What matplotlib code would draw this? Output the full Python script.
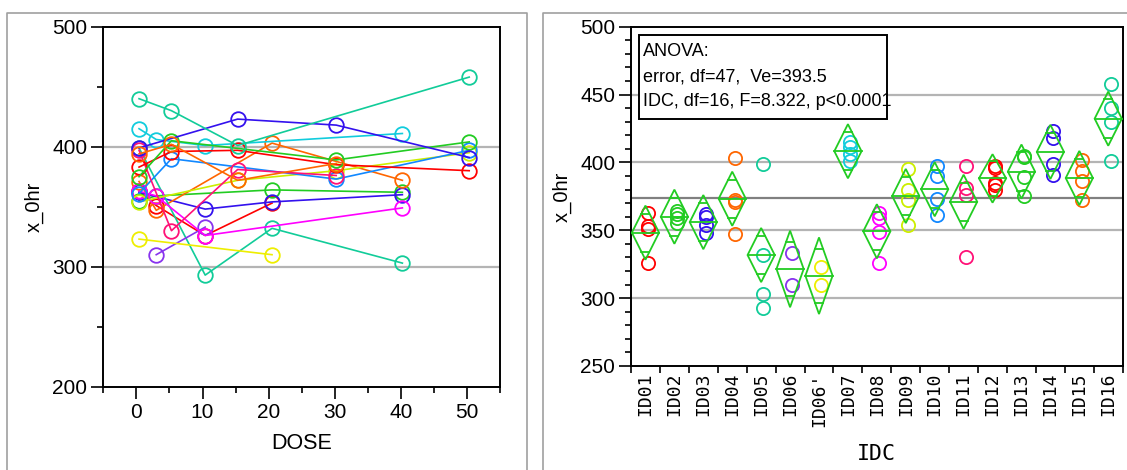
import numpy as np
import matplotlib
matplotlib.use("Agg")
import matplotlib.pyplot as plt
from matplotlib.lines import Line2D
from matplotlib.patches import Polygon, Rectangle
from matplotlib.ticker import MultipleLocator, FixedLocator

plt.rcParams['font.family'] = ['Liberation Sans', 'DejaVu Sans']

# subjects, in plotting order, with their JMP-style colours
ids = ["ID01", "ID02", "ID03", "ID04", "ID05", "ID06", "ID06'", "ID07", "ID08",
       "ID09", "ID10", "ID11", "ID12", "ID13", "ID14", "ID15", "ID16"]
colors = ["#FF0000", "#22CC22", "#3311EE", "#FF6600", "#11CC99", "#8833EE", "#EEEE00",
          "#11CCDD", "#FF00FF", "#CCEE00", "#1188FF", "#FF1177", "#FF0000", "#22CC22",
          "#3311EE", "#FF6600", "#11CC99"]

# dose per measurement and the matching x_0hr value, one list per subject
dose_by_id = [
    [0.4, 3.0, 10.4, 20.5],
    [0.4, 3.0, 20.5, 40.2],
    [0.4, 10.4, 20.5, 40.2],
    [0.4, 3.0, 20.5, 40.2],
    [0.4, 10.4, 20.5, 40.2],
    [3.0, 10.4],
    [0.4, 20.5],
    [0.4, 3.0, 10.4, 40.2],
    [0.4, 3.0, 10.4, 40.2],
    [0.4, 15.3, 30.2, 50.3],
    [0.4, 5.3, 30.2, 50.3],
    [0.4, 5.3, 15.3, 30.2],
    [0.4, 5.3, 15.3, 30.2, 50.3],
    [0.4, 5.3, 30.2, 50.3],
    [0.4, 15.3, 30.2, 50.3],
    [0.4, 5.3, 15.3, 30.2],
    [0.4, 5.3, 15.3, 50.3],
]
x0hr_by_id = [
    [363, 351, 326, 353],
    [355, 359, 364, 362],
    [362, 348, 354, 360],
    [371, 347, 403, 372],
    [399, 293, 332, 303],
    [310, 333],
    [323, 310],
    [415, 406, 401, 411],
    [363, 359, 326, 349],
    [354, 372, 380, 395],
    [361, 390, 373, 397],
    [397, 330, 381, 376],
    [383, 396, 397, 385, 380],
    [375, 405, 389, 404],
    [399, 423, 418, 391],
    [394, 402, 372, 386],
    [440, 430, 401, 458],
]

anova_lines = ["ANOVA:", "error, df=47,  Ve=393.5", "IDC, df=16, F=8.322, p<0.0001"]
ve = 393.5
t_crit = 2.012  # t(0.975, df=47)

W, H = 1127, 470
fig = plt.figure(figsize=(W / 100, H / 100), dpi=100)


def fx(px):
    return px / W


def fy(py):
    return 1 - py / H


def style_axis(ax):
    for s in ax.spines.values():
        s.set_linewidth(1.4)
    ax.tick_params(which='major', direction='out', length=8.4, width=1.2, labelsize=15, pad=3)
    ax.tick_params(which='minor', direction='out', length=4.3, width=1.2)


# grey frames around the two report panels
frame_top = fy(12.7)
for x0, x1 in [(7, 527), (543, 1160)]:
    fig.add_artist(Line2D([fx(x0), fx(x0), fx(x1), fx(x1)], [-0.1, frame_top, frame_top, -0.1],
                          transform=fig.transFigure, color='#A0A0A0', lw=1.2))

# ---- left: x_0hr by dose, one line per subject
ax1 = fig.add_axes([fx(103.3), fy(386.7), fx(500.3) - fx(103.3), fy(26.7) - fy(386.7)])
for d, v, c in zip(dose_by_id, x0hr_by_id, colors):
    ax1.plot(d, v, '-', color=c, lw=1.2, marker='o', ms=10.5, mfc='none', mec=c, mew=1.3, zorder=3)
for g in (300, 400):
    ax1.axhline(g, color='#B4B4B4', lw=1.6, zorder=1)
ax1.set_xlim(-5, 55)
ax1.set_ylim(200, 500)
ax1.xaxis.set_major_locator(MultipleLocator(10))
ax1.xaxis.set_minor_locator(MultipleLocator(5))
ax1.yaxis.set_major_locator(MultipleLocator(100))
ax1.yaxis.set_minor_locator(MultipleLocator(50))
style_axis(ax1)
ax1.set_xlabel("DOSE", fontsize=15.5, labelpad=8)
ax1.set_ylabel("x_0hr", fontsize=14.5, labelpad=6)

# ---- right: one-way ANOVA of x_0hr by IDC with means diamonds
ax2 = fig.add_axes([fx(631), fy(366), fx(1122.7) - fx(631), fy(26.7) - fy(366)])
for g in (300, 350, 400, 450):
    ax2.axhline(g, color='#B4B4B4', lw=1.6, zorder=1)
all_vals = np.concatenate([np.array(v, float) for v in x0hr_by_id])
ax2.axhline(all_vals.mean(), color='#808080', lw=1.6, zorder=1)

half_w = 0.47
for i, (v, c) in enumerate(zip(x0hr_by_id, colors)):
    v = np.array(v, float)
    m = v.mean()
    h = t_crit * np.sqrt(ve / len(v))
    ax2.plot(np.full(len(v), i + 0.08), v, 'o', ms=9.5, mfc='none', mec=c, mew=1.3, zorder=3)
    ax2.add_patch(Polygon([(i - half_w, m), (i, m + h), (i + half_w, m), (i, m - h)],
                          closed=True, fill=False, ec='#22CC22', lw=1.3, zorder=4))
    ax2.plot([i - half_w, i + half_w], [m, m], color='#22CC22', lw=1.3, zorder=4)
    # overlap marks
    off = h / np.sqrt(2)
    ow = half_w * (1 - 1 / np.sqrt(2))
    for yy in (m + off, m - off):
        ax2.plot([i - ow, i + ow], [yy, yy], color='#22CC22', lw=1.3, zorder=4)

ax2.set_xlim(-0.5, len(ids) - 0.5)
ax2.set_ylim(250, 500)
ax2.yaxis.set_major_locator(MultipleLocator(50))
ax2.yaxis.set_minor_locator(MultipleLocator(10))
ax2.xaxis.set_major_locator(FixedLocator(np.arange(len(ids))))
ax2.xaxis.set_minor_locator(FixedLocator(np.arange(len(ids) + 1) - 0.5))
style_axis(ax2)
ax2.tick_params(axis='x', which='major', length=0, pad=5)
ax2.tick_params(axis='x', which='minor', length=5)
ax2.set_xticklabels(ids, rotation=90, fontsize=13, family=['DejaVu Sans Mono', 'DejaVu Sans'])
ax2.set_xlabel("IDC", fontsize=15.5, family=['DejaVu Sans Mono', 'DejaVu Sans'], labelpad=12)
ax2.set_ylabel("x_0hr", fontsize=14.5, labelpad=6)

# ANOVA summary box
fig.add_artist(Rectangle((fx(639.3), fy(119)), fx(886.7) - fx(639.3), fy(35) - fy(119),
                         transform=fig.transFigure, fc='white', ec='black', lw=1.4, zorder=5))
for txt, yc in zip(anova_lines, (52, 77, 101.7)):
    fig.text(fx(643), fy(yc), txt, fontsize=13, va='center', ha='left', zorder=6)

fig.savefig("out.png", dpi=100)
